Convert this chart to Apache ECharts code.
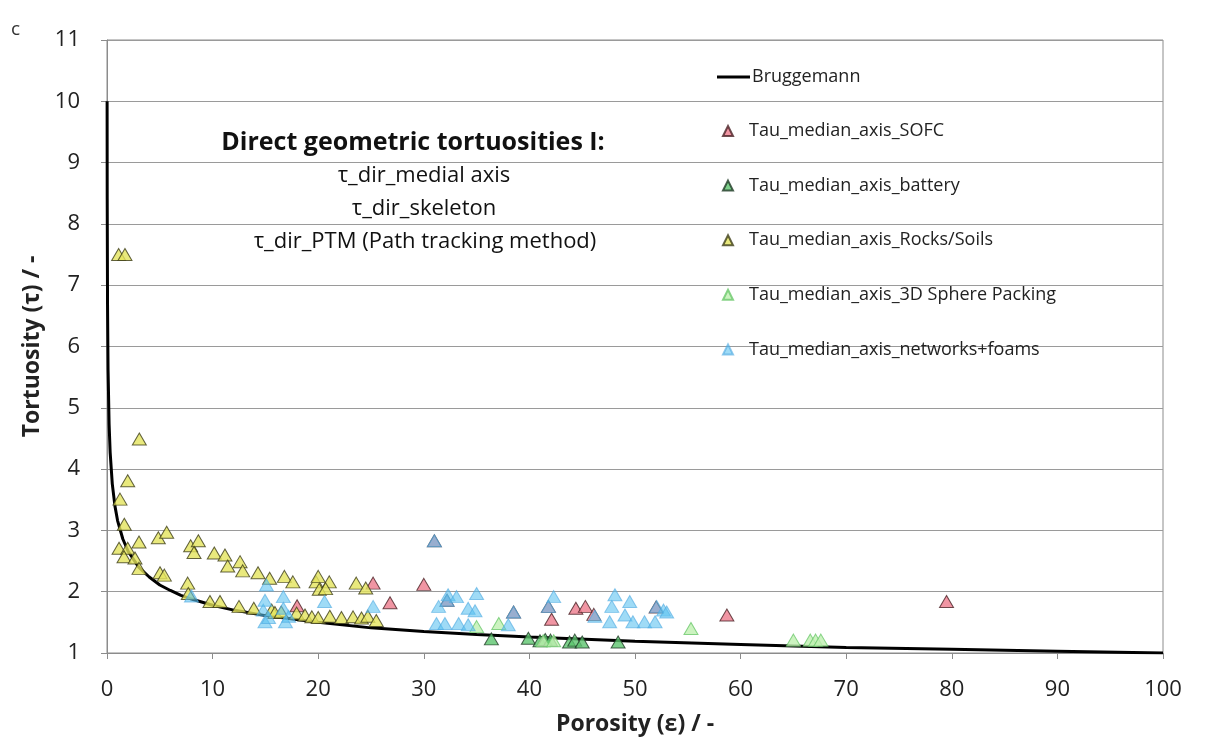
<!DOCTYPE html>
<html>
<head>
<meta charset="utf-8">
<script src="https://cdn.jsdelivr.net/npm/echarts@6/dist/echarts.min.js"></script>
<style>
  html, body { margin: 0; padding: 0; background: #fff; }
  #chart { width: 1208px; height: 754px; }
</style>
</head>
<body>
<div id="chart"></div>
<script>
// Axis ticks
const xTicks = [0, 10, 20, 30, 40, 50, 60, 70, 80, 90, 100];
const yTicks = [1, 2, 3, 4, 5, 6, 7, 8, 9, 10, 11];

// Bruggemann reference curve: [porosity %, tortuosity]
const bruggemann = [
  [0.01, 10.0], [0.02, 8.41], [0.05, 6.69], [0.1, 5.62], [0.2, 4.73], [0.3, 4.27],
  [0.5, 3.76], [0.75, 3.40], [1, 3.16], [1.5, 2.86], [2, 2.66], [3, 2.40], [4, 2.24],
  [5, 2.11], [6, 2.02], [7, 1.94], [8, 1.88], [10, 1.78], [12, 1.70], [15, 1.61],
  [20, 1.50], [25, 1.41], [30, 1.35], [35, 1.30], [40, 1.26], [50, 1.19], [60, 1.14],
  [70, 1.09], [80, 1.06], [90, 1.03], [100, 1.00]
];

// Median-axis tortuosities by material class: [porosity %, tortuosity]
const sofc = [
  [18.0, 1.77], [25.2, 2.14], [26.8, 1.82], [30.0, 2.12], [31.0, 2.83], [32.2, 1.86],
  [38.5, 1.67], [41.8, 1.76], [42.1, 1.55], [44.4, 1.73], [45.3, 1.76], [46.1, 1.63],
  [52.0, 1.75], [58.7, 1.62], [79.5, 1.84]
];

const battery = [
  [36.4, 1.23], [39.9, 1.24], [41.0, 1.20], [41.5, 1.22], [42.0, 1.21], [43.8, 1.18],
  [44.3, 1.21], [45.0, 1.18], [48.4, 1.18]
];

const rocksSoils = [
  [1.1, 7.5], [1.7, 7.5], [3.06, 4.49], [1.96, 3.81], [1.23, 3.51], [1.64, 3.10],
  [3.03, 2.81], [1.14, 2.71], [1.96, 2.71], [1.61, 2.57], [2.65, 2.55], [3.03, 2.38],
  [4.86, 2.88], [5.65, 2.97], [5.02, 2.31], [5.43, 2.27], [7.92, 2.75], [8.65, 2.83],
  [8.24, 2.64], [7.64, 2.14], [7.7, 1.97], [10.16, 2.63], [11.17, 2.60], [11.43, 2.42],
  [12.6, 2.49], [12.85, 2.34], [14.3, 2.31], [15.4, 2.22], [16.8, 2.25], [17.6, 2.16],
  [19.8, 2.16], [20.0, 2.25], [21.05, 2.16], [20.1, 2.04], [20.7, 2.05], [23.6, 2.14],
  [24.5, 2.06], [9.75, 1.84], [10.7, 1.84], [12.5, 1.76], [13.9, 1.73], [15.6, 1.70],
  [15.9, 1.66], [16.5, 1.67], [17.96, 1.65], [18.75, 1.62], [19.4, 1.59], [20.0, 1.58],
  [21.1, 1.60], [22.2, 1.58], [23.3, 1.59], [24.1, 1.57], [24.7, 1.60], [25.5, 1.53]
];

const spherePacking = [
  [35.0, 1.43], [37.1, 1.48], [41.3, 1.20], [42.3, 1.20], [55.3, 1.40],
  [65.0, 1.21], [66.6, 1.21], [67.1, 1.21], [67.6, 1.21]
];

const networksFoams = [
  [8.0, 1.93], [14.8, 1.70], [14.96, 1.86], [14.96, 1.51], [15.1, 2.11], [15.3, 1.58],
  [16.7, 1.92], [16.7, 1.73], [16.9, 1.51], [17.2, 1.60], [20.6, 1.84], [25.2, 1.76],
  [31.0, 2.83], [31.2, 1.48], [31.4, 1.76], [32.0, 1.48], [32.2, 1.86], [32.3, 1.95],
  [33.1, 1.92], [33.3, 1.48], [34.2, 1.73], [34.2, 1.46], [34.85, 1.69], [35.0, 1.97],
  [38.0, 1.46], [38.5, 1.67], [41.8, 1.76], [42.3, 1.92], [46.2, 1.60], [47.6, 1.51],
  [47.8, 1.76], [48.1, 1.95], [49.05, 1.62], [49.5, 1.84], [49.8, 1.51], [50.9, 1.51],
  [51.9, 1.51], [52.05, 1.76], [52.7, 1.70], [53.0, 1.67]
];

const FONT = '"Open Sans", Lato, sans-serif';
const TRI = [14, 12];

const chart = echarts.init(document.getElementById('chart'));

chart.setOption({
  backgroundColor: '#ffffff',
  animation: false,
  textStyle: { fontFamily: FONT },
  grid: {
    left: 107, right: 45, top: 40, bottom: 101,
    show: true, borderColor: '#8c8c8c', borderWidth: 1, backgroundColor: 'transparent'
  },
  xAxis: {
    type: 'value', min: xTicks[0], max: xTicks[xTicks.length - 1], interval: 10,
    name: 'Porosity (ε) / -', nameLocation: 'middle', nameGap: 60,
    nameTextStyle: { fontFamily: FONT, fontSize: 23, fontWeight: 'bold', color: '#222' },
    axisLine: { show: true, lineStyle: { color: '#8c8c8c', width: 1 } },
    axisTick: { show: true, inside: false, length: 6, lineStyle: { color: '#8c8c8c' } },
    axisLabel: { fontFamily: FONT, fontSize: 22, color: '#222', margin: 26 },
    splitLine: { show: false }
  },
  yAxis: {
    type: 'value', min: yTicks[0], max: yTicks[yTicks.length - 1], interval: 1,
    name: 'Tortuosity (τ) / -', nameLocation: 'middle', nameGap: 63, nameRotate: 90,
    nameTextStyle: { fontFamily: FONT, fontSize: 23, fontWeight: 'bold', color: '#222' },
    axisLine: { show: true, lineStyle: { color: '#8c8c8c', width: 1 } },
    axisTick: { show: true, inside: false, length: 6, lineStyle: { color: '#8c8c8c' } },
    axisLabel: { fontFamily: FONT, fontSize: 22, color: '#222', margin: 27 },
    splitLine: { show: true, lineStyle: { color: '#9a9a9a', width: 1 } }
  },
  legend: [
    {
      data: [{ name: 'Bruggemann', icon: 'rect' }],
      orient: 'vertical', left: 712, top: 63,
      itemWidth: 33, itemHeight: 3,
      itemStyle: { color: '#000' },
      textStyle: { fontFamily: FONT, fontSize: 18, color: '#222', padding: [0, 0, 0, -3] }
    },
    {
      data: [
        'Tau_median_axis_SOFC',
        'Tau_median_axis_battery',
        'Tau_median_axis_Rocks/Soils',
        'Tau_median_axis_3D Sphere Packing',
        'Tau_median_axis_networks+foams'
      ],
      orient: 'vertical', left: 717, top: 117,
      itemWidth: 10, itemHeight: 10, itemGap: 36.6,
      textStyle: { fontFamily: FONT, fontSize: 18, color: '#222', padding: [0, 0, 0, 11] }
    }
  ],
  graphic: [
    { type: 'text', left: 11, top: 20,
      style: { text: 'c', font: '19px ' + FONT, fill: '#333' } },
    { type: 'text', x: 413, y: 143,
      style: { text: 'Direct geometric tortuosities I:', font: 'bold 25px ' + FONT, fill: '#111',
               textAlign: 'center', textVerticalAlign: 'middle' } },
    { type: 'text', x: 424, y: 176,
      style: { text: 'τ_dir_medial axis', font: '22px ' + FONT, fill: '#111',
               textAlign: 'center', textVerticalAlign: 'middle' } },
    { type: 'text', x: 424, y: 209,
      style: { text: 'τ_dir_skeleton', font: '22px ' + FONT, fill: '#111',
               textAlign: 'center', textVerticalAlign: 'middle' } },
    { type: 'text', x: 425, y: 242,
      style: { text: 'τ_dir_PTM (Path tracking method)', font: '22px ' + FONT, fill: '#111',
               textAlign: 'center', textVerticalAlign: 'middle' } }
  ],
  series: [
    {
      name: 'Bruggemann', type: 'line', data: bruggemann,
      symbol: 'none', showSymbol: false, smooth: false, z: 3,
      lineStyle: { color: '#000', width: 3 }, itemStyle: { color: '#000' }
    },
    {
      name: 'Tau_median_axis_SOFC', type: 'scatter', data: sofc,
      symbol: 'triangle', symbolSize: TRI, z: 4,
      itemStyle: { color: '#ec7b8c', borderColor: '#4a2226', borderWidth: 1 }
    },
    {
      name: 'Tau_median_axis_battery', type: 'scatter', data: battery,
      symbol: 'triangle', symbolSize: TRI, z: 4,
      itemStyle: { color: '#5cc46e', borderColor: '#1f3a26', borderWidth: 1 }
    },
    {
      name: 'Tau_median_axis_Rocks/Soils', type: 'scatter', data: rocksSoils,
      symbol: 'triangle', symbolSize: TRI, z: 4,
      itemStyle: { color: '#e4e45c', borderColor: '#3d3d18', borderWidth: 1 }
    },
    {
      name: 'Tau_median_axis_3D Sphere Packing', type: 'scatter', data: spherePacking,
      symbol: 'triangle', symbolSize: TRI, z: 5,
      itemStyle: { color: '#bff0b0', borderColor: '#6cc86c', borderWidth: 1 }
    },
    {
      name: 'Tau_median_axis_networks+foams', type: 'scatter', data: networksFoams,
      symbol: 'triangle', symbolSize: TRI, z: 6,
      itemStyle: { color: 'rgba(88,192,240,0.72)', borderColor: 'rgba(80,170,225,0.8)', borderWidth: 1 }
    }
  ]
});
</script>
</body>
</html>
